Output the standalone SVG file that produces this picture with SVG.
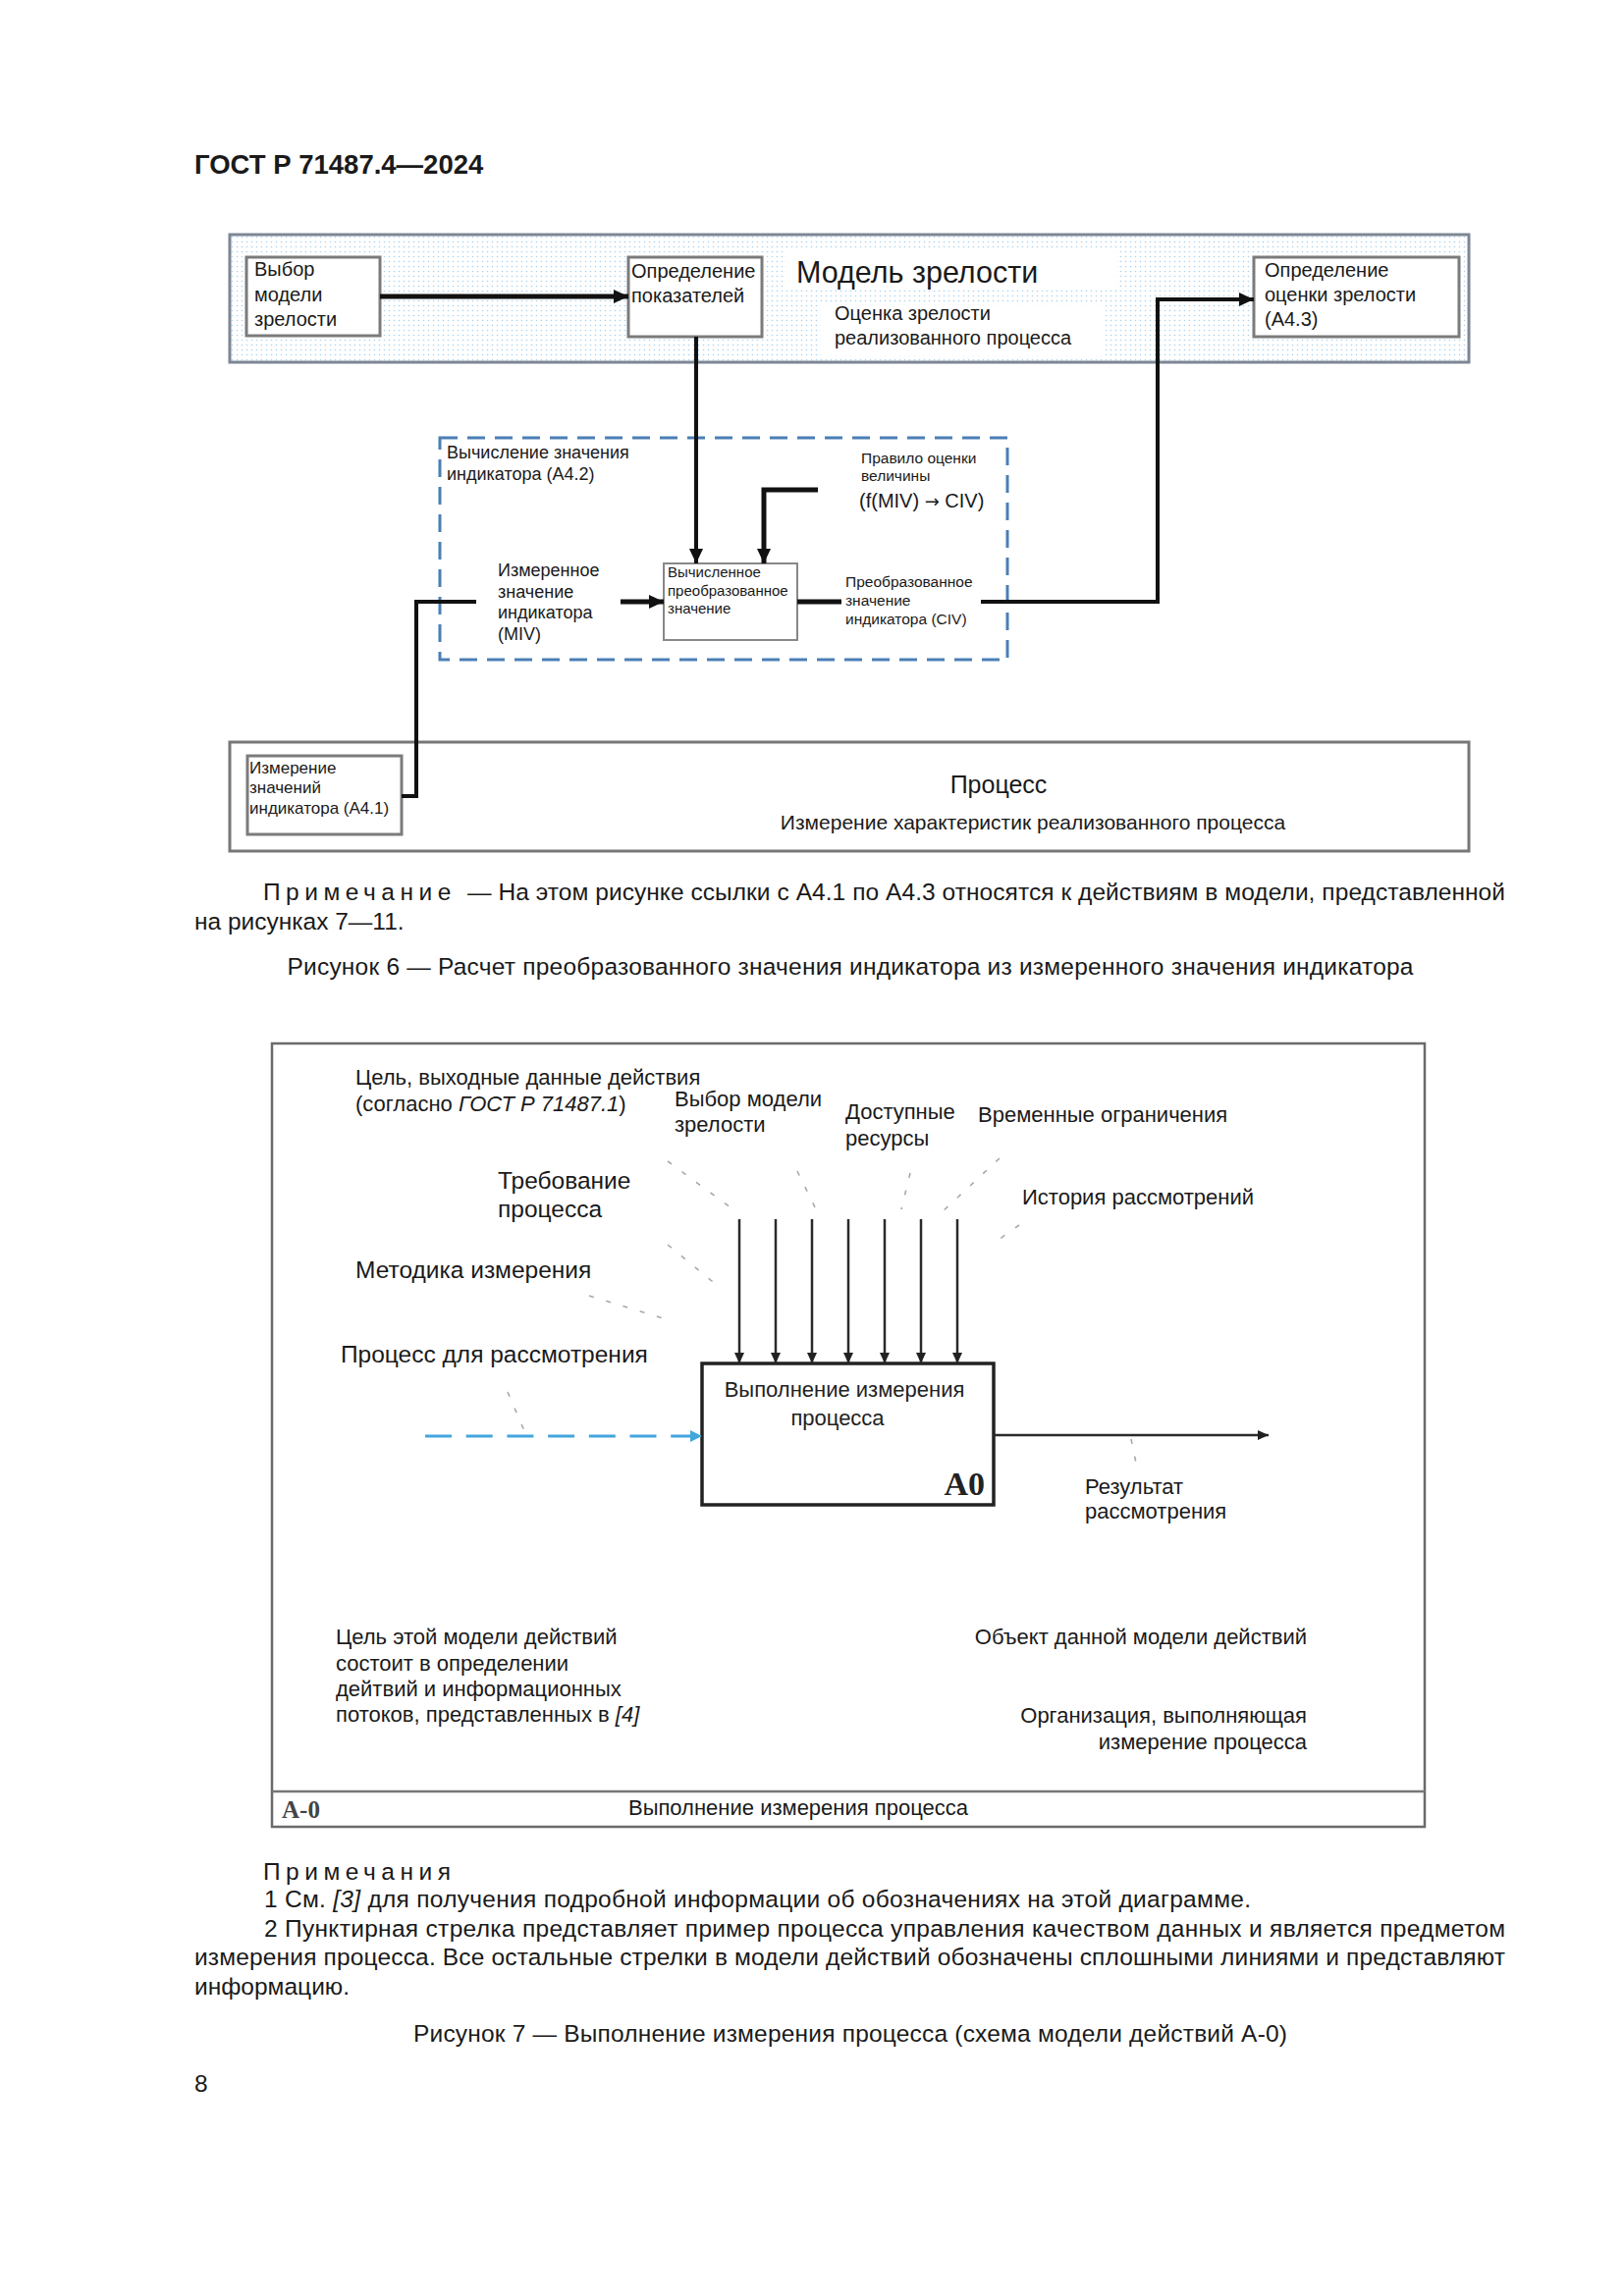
<svg xmlns="http://www.w3.org/2000/svg" width="1654" height="2339" viewBox="0 0 1654 2339">
<defs>
<style>
text{font-family:"Liberation Sans",Arial,"Noto Sans CJK SC",sans-serif;fill:#1a1a1a}
.body{font-size:24.5px}
.hdr{font-size:27.5px;font-weight:bold}
.f20{font-size:20px}
.f18{font-size:18px}
.f17{font-size:17px}
.f15{font-size:15.5px}
.f22{font-size:22px}
.f24{font-size:24.5px}
.ser{font-family:"Liberation Serif","Times New Roman",serif;font-weight:bold}
.box{fill:#fff;stroke:#7b7b7b;stroke-width:3}
.thick{stroke:#111;stroke-width:5;fill:none}
.med{stroke:#111;stroke-width:4;fill:none}
.thin{stroke:#2a2a2a;stroke-width:2.5;fill:none}
.leader{stroke:#a8a8a8;stroke-width:1.6;stroke-dasharray:5 13;fill:none}
.blue{stroke:#43a6dd;stroke-width:3;stroke-dasharray:27 14.7;fill:none}
</style>
<pattern id="dots" width="5" height="5" patternUnits="userSpaceOnUse">
<rect width="5" height="5" fill="#fff"/>
<circle cx="1.5" cy="1.5" r="0.8" fill="#a9d2f0"/>
</pattern>
<marker id="ahBig" markerUnits="userSpaceOnUse" markerWidth="15" markerHeight="14" refX="15" refY="7" orient="auto">
<path d="M0,0 L15,7 L0,14 z" fill="#111"/>
</marker>
<marker id="ahSm" markerUnits="userSpaceOnUse" markerWidth="11" markerHeight="10" refX="11" refY="5" orient="auto">
<path d="M0,0 L11,5 L0,10 z" fill="#222"/>
</marker>
<marker id="ahBlue" markerUnits="userSpaceOnUse" markerWidth="12" markerHeight="12" refX="12" refY="6" orient="auto">
<path d="M0,0 L12,6 L0,12 z" fill="#43a6dd"/>
</marker>
</defs>
<rect width="1654" height="2339" fill="#fff"/>

<text class="hdr" x="198" y="177">ГОСТ Р 71487.4—2024</text>

<!-- ===== Figure 6 ===== -->
<g id="fig6-maturity-model">
<rect x="234" y="239" width="1262" height="130" fill="url(#dots)" stroke="#7d8694" stroke-width="3"/>
<rect x="801" y="253" width="336" height="41" fill="#fff"/>
<rect x="836" y="311" width="290" height="51" fill="#fff"/>
<text x="811" y="288" style="font-size:30.5px">Модель зрелости</text>
<text class="f20" x="850" y="326">Оценка зрелости</text>
<text class="f20" x="850" y="351">реализованного процесса</text>
</g>

<g id="node-vybor">
<rect class="box" x="251" y="262" width="136" height="80"/>
<text class="f20" x="259" y="281">Выбор</text>
<text class="f20" x="259" y="307">модели</text>
<text class="f20" x="259" y="332">зрелости</text>
</g>

<g id="node-opredelenie">
<rect class="box" x="640" y="262" width="136" height="81"/>
<text class="f20" x="643" y="283">Определение</text>
<text class="f20" x="643" y="308">показателей</text>
</g>

<g id="node-a43">
<rect class="box" x="1277" y="262" width="209" height="81"/>
<text class="f20" x="1288" y="282">Определение</text>
<text class="f20" x="1288" y="307">оценки зрелости</text>
<text class="f20" x="1288" y="332">(А4.3)</text>
</g>

<g id="fig6-a42">
<rect x="448" y="446" width="578" height="226" fill="none" stroke="#4a7fb5" stroke-width="3" stroke-dasharray="18 10"/>
<text class="f18" x="455" y="467">Вычисление значения</text>
<text class="f18" x="455" y="489">индикатора (А4.2)</text>
<text class="f15" x="877" y="472">Правило оценки</text>
<text class="f15" x="877" y="490">величины</text>
<text class="f20" x="875" y="517">(f(MIV) <tspan style="font-family:'DejaVu Sans',sans-serif;font-size:18px">→</tspan> CIV)</text>
<text class="f18" x="507" y="587">Измеренное</text>
<text class="f18" x="507" y="609">значение</text>
<text class="f18" x="507" y="630">индикатора</text>
<text class="f18" x="507" y="652">(MIV)</text>
<text class="f15" x="861" y="598">Преобразованное</text>
<text class="f15" x="861" y="617">значение</text>
<text class="f15" x="861" y="636">индикатора (CIV)</text>
</g>

<g id="node-calc">
<rect x="676" y="574" width="136" height="78" fill="#fff" stroke="#888" stroke-width="2"/>
<text x="680" y="588" style="font-size:15px">Вычисленное</text>
<text x="680" y="607" style="font-size:15px">преобразованное</text>
<text x="680" y="625" style="font-size:15px">значение</text>
</g>

<g id="fig6-process">
<rect x="234" y="756" width="1262" height="111" fill="#fff" stroke="#777" stroke-width="3"/>
<text x="1017" y="808" text-anchor="middle" style="font-size:25px">Процесс</text>
<text x="1052" y="845" text-anchor="middle" style="font-size:21px">Измерение характеристик реализованного процесса</text>
</g>

<g id="node-a41">
<rect class="box" x="252" y="770" width="157" height="80"/>
<text class="f17" x="254" y="788">Измерение</text>
<text class="f17" x="254" y="808">значений</text>
<text class="f17" x="254" y="829">индикатора (А4.1)</text>
</g>

<g id="fig6-connectors">
<line class="thick" x1="387" y1="302" x2="640" y2="302" marker-end="url(#ahBig)"/>
<line class="med" x1="709" y1="343" x2="709" y2="574" marker-end="url(#ahBig)"/>
<polyline class="thick" points="833,499 778,499 778,574" marker-end="url(#ahBig)"/>
<polyline class="med" points="409,811 424,811 424,613 485,613"/>
<line class="thick" x1="632" y1="613" x2="676" y2="613" marker-end="url(#ahBig)"/>
<line class="thick" x1="812" y1="613" x2="857" y2="613"/>
<polyline class="med" points="999,613 1179,613 1179,305 1277,305" marker-end="url(#ahBig)"/>
</g>

<g id="fig6-notes">
<text class="body" x="268" y="917" letter-spacing="5.5">Примечание</text>
<text class="body" x="476" y="917" textLength="1057" lengthAdjust="spacing">— На этом рисунке ссылки с А4.1 по А4.3 относятся к действиям в модели, представленной</text>
<text class="body" x="198" y="947">на рисунках 7—11.</text>
<text class="body" x="866" y="993" text-anchor="middle" textLength="1147" lengthAdjust="spacing">Рисунок 6 — Расчет преобразованного значения индикатора из измеренного значения индикатора</text>
</g>

<!-- ===== Figure 7 ===== -->
<g id="fig7-frame">
<rect x="277" y="1063" width="1174" height="798" fill="none" stroke="#6a6a6a" stroke-width="2.5"/>
<line x1="277" y1="1825" x2="1451" y2="1825" stroke="#777" stroke-width="2.5"/>
<text class="ser" x="287" y="1852" style="font-size:25px;fill:#444">А-0</text>
<text class="f22" x="813" y="1849" text-anchor="middle">Выполнение измерения процесса</text>
</g>

<g id="fig7-labels">
<text class="f22" x="362" y="1105">Цель, выходные данные действия</text>
<text class="f22" x="362" y="1132">(согласно <tspan font-style="italic">ГОСТ Р 71487.1</tspan>)</text>
<text class="f22" x="687" y="1127">Выбор модели</text>
<text class="f22" x="687" y="1153">зрелости</text>
<text class="f22" x="861" y="1140">Доступные</text>
<text class="f22" x="861" y="1167">ресурсы</text>
<text class="f22" x="996" y="1143">Временные ограничения</text>
<text class="f22" x="1041" y="1227">История рассмотрений</text>
<text class="f24" x="507" y="1211">Требование</text>
<text class="f24" x="507" y="1240">процесса</text>
<text class="f24" x="362" y="1302">Методика измерения</text>
<text class="f24" x="347" y="1388">Процесс для рассмотрения</text>
<text class="f22" x="1105" y="1522">Результат</text>
<text class="f22" x="1105" y="1547">рассмотрения</text>
<text class="f22" x="342" y="1675">Цель этой модели действий</text>
<text class="f22" x="342" y="1702">состоит в определении</text>
<text class="f22" x="342" y="1728">дейтвий и информационных</text>
<text class="f22" x="342" y="1754">потоков, представленных в <tspan font-style="italic">[4]</tspan></text>
<text class="f22" x="1331" y="1675" text-anchor="end">Объект данной модели действий</text>
<text class="f22" x="1331" y="1755" text-anchor="end">Организация, выполняющая</text>
<text class="f22" x="1331" y="1782" text-anchor="end">измерение процесса</text>
</g>

<g id="node-a0">
<rect x="715" y="1389" width="297" height="144" fill="#fff" stroke="#222" stroke-width="3.5"/>
<text class="f22" x="860" y="1423" text-anchor="middle" style="fill:#222">Выполнение измерения</text>
<text class="f22" x="853" y="1452" text-anchor="middle" style="fill:#222">процесса</text>
<text class="ser" x="1003" y="1523" text-anchor="end" style="font-size:34px;fill:#222">А0</text>
</g>

<g id="fig7-connectors">
<line class="thin" x1="753" y1="1242" x2="753" y2="1389" marker-end="url(#ahSm)"/>
<line class="thin" x1="790" y1="1242" x2="790" y2="1389" marker-end="url(#ahSm)"/>
<line class="thin" x1="827" y1="1242" x2="827" y2="1389" marker-end="url(#ahSm)"/>
<line class="thin" x1="864" y1="1242" x2="864" y2="1389" marker-end="url(#ahSm)"/>
<line class="thin" x1="901" y1="1242" x2="901" y2="1389" marker-end="url(#ahSm)"/>
<line class="thin" x1="938" y1="1242" x2="938" y2="1389" marker-end="url(#ahSm)"/>
<line class="thin" x1="975" y1="1242" x2="975" y2="1389" marker-end="url(#ahSm)"/>
<line class="thin" x1="1012" y1="1462" x2="1292" y2="1462" marker-end="url(#ahSm)"/>
<line class="blue" x1="433" y1="1463" x2="715" y2="1463" marker-end="url(#ahBlue)"/>
<line class="leader" x1="680" y1="1183" x2="752" y2="1236"/>
<line class="leader" x1="680" y1="1268" x2="731" y2="1310"/>
<line class="leader" x1="600" y1="1320" x2="675" y2="1343"/>
<line class="leader" x1="517" y1="1418" x2="535" y2="1460"/>
<line class="leader" x1="812" y1="1193" x2="832" y2="1234"/>
<line class="leader" x1="927" y1="1195" x2="918" y2="1232"/>
<line class="leader" x1="1018" y1="1180" x2="958" y2="1236"/>
<line class="leader" x1="1038" y1="1248" x2="1010" y2="1268"/>
<line class="leader" x1="1152" y1="1466" x2="1158" y2="1495"/>
</g>

<g id="fig7-notes">
<text class="body" x="268" y="1915" letter-spacing="5.5">Примечания</text>
<text class="body" x="269" y="1943" textLength="1005" lengthAdjust="spacing">1 См. <tspan font-style="italic">[3]</tspan> для получения подробной информации об обозначениях на этой диаграмме.</text>
<text class="body" x="269" y="1973" textLength="1264" lengthAdjust="spacing">2 Пунктирная стрелка представляет пример процесса управления качеством данных и является предметом</text>
<text class="body" x="198" y="2002" textLength="1335" lengthAdjust="spacing">измерения процесса. Все остальные стрелки в модели действий обозначены сплошными линиями и представляют</text>
<text class="body" x="198" y="2032">информацию.</text>
<text class="body" x="866" y="2080" text-anchor="middle" textLength="890" lengthAdjust="spacing">Рисунок 7 — Выполнение измерения процесса (схема модели действий А-0)</text>
<text class="body" x="198" y="2131">8</text>
</g>
</svg>
